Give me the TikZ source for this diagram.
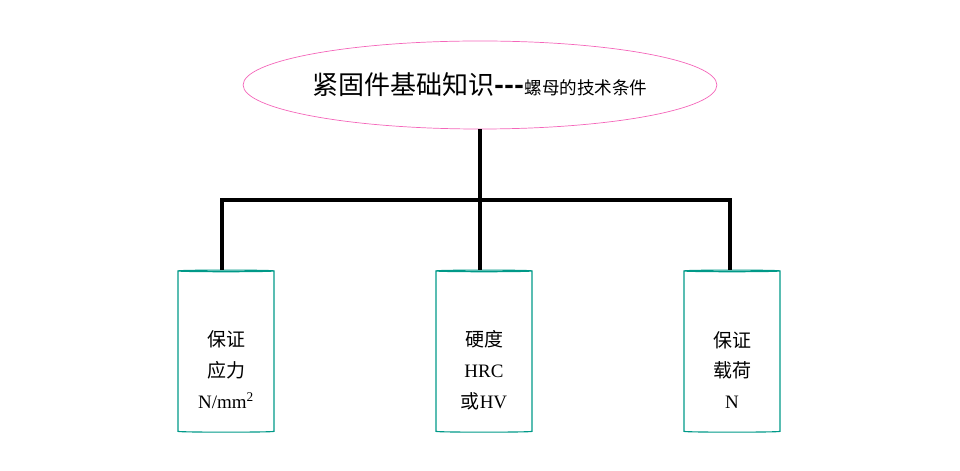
\documentclass[tikz,border=0pt]{standalone}
\usepackage{fontspec}
\setmainfont{Liberation Serif}
\newfontfamily\cjk{Noto Sans CJK SC}
\usetikzlibrary{positioning, shapes.geometric}
\definecolor{drumline}{RGB}{0,153,136}

\begin{document}
\begin{tikzpicture}[
    x=0.025cm, y=-0.025cm,
    title/.style={
        ellipse,
        draw=magenta!60,
        line width=0.5pt,
        inner sep=0pt,
        minimum width=10.9cm,
        minimum height=2.2cm
    },
    drum/.style={
        cylinder,
        shape border rotate=90,
        aspect=0.17,
        draw=drumline,
        line width=0.8pt,
        minimum width=2.4cm,
        minimum height=4.05cm
    },
    drumtxt/.style={
        font=\fontsize{13.5}{22}\selectfont,
        align=center
    },
    link/.style={
        line width=2.2pt,
        color=black
    }
]
\useasboundingbox (0,0) rectangle (960,471);

% Nodes
\node[title] (head) at (480,85)
    {\cjk\fontsize{18.5}{22}\selectfont 紧固件基础知识\textbf{---}\fontsize{12.5}{16}\selectfont 螺母的技术条件};
\node[drum] (stress) at (226,352) {};
\node[drum] (hard)   at (484,352) {};
\node[drum] (load)   at (732,352) {};
\node[drumtxt] (stresstxt) at (226,370) {\cjk 保证\\\cjk 应力\\N/mm\textsuperscript{2}};
\node[drumtxt] (hardtxt)   at (484,370) {\cjk 硬度\\HRC\\{\cjk 或}HV};
\node[drumtxt] (loadtxt)   at (732,370) {\cjk 保证\\\cjk 载荷\\N};
\coordinate (fork) at (480,200);

% Tree lines
\draw[link] (head.south) -- (fork);
\draw[link] (222,270) |- (fork) -| (730,270);
\draw[link] (fork) -- (480,270);
\end{tikzpicture}
\end{document}
